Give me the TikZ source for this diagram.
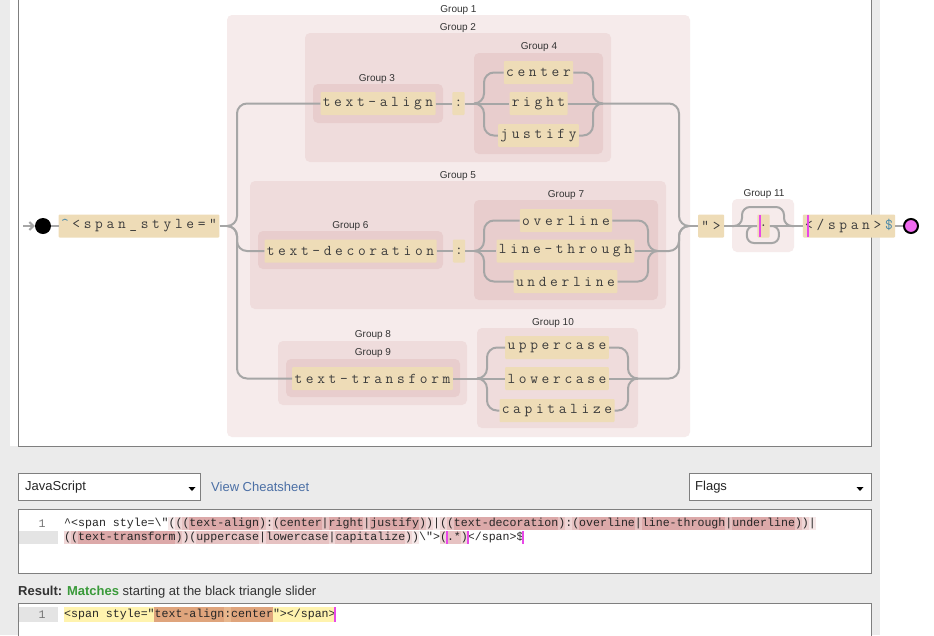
\documentclass[tikz,border=0pt]{standalone}
\usepackage{fontspec}
\setmainfont{Liberation Sans}
\newfontfamily\lmono{Liberation Mono}
\usetikzlibrary{calc,arrows.meta}
\definecolor{bggray}{HTML}{EBEBEB}
\definecolor{bord}{HTML}{7F7F7F}
\definecolor{lv1}{HTML}{F6EBEB}
\definecolor{lv2}{HTML}{EFDCDC}
\definecolor{lv3}{HTML}{E8CDCD}
\definecolor{tokfill}{HTML}{EEDCB7}
\definecolor{toktext}{HTML}{3C3C3C}
\definecolor{anch}{HTML}{4A88A8}
\definecolor{conncol}{HTML}{A6A6A6}
\definecolor{magbar}{HTML}{E848E8}
\definecolor{endfill}{HTML}{F06AF0}
\definecolor{hla}{HTML}{F6E8E8}
\definecolor{hlb}{HTML}{EFD6D6}
\definecolor{hlc}{HTML}{E6C2C2}
\definecolor{hld}{HTML}{DCA9A9}
\definecolor{yel}{HTML}{FFF3AE}
\definecolor{org}{HTML}{DFA47C}
\definecolor{orgl}{HTML}{E8B78E}
\definecolor{linkblue}{HTML}{4B6FA5}
\definecolor{green}{HTML}{3A9A3A}
\definecolor{guttergray}{HTML}{E4E4E4}
\makeatletter
\newcommand\spc[1]{\@tfor\sp@ch:=#1\do{\makebox[11.4pt]{\sp@ch}}}
\makeatother
\newcommand\hlx[4]{\fill[#4] ({64+(#2-1)*6.961},#1) rectangle ({64+(#3)*6.961},{#1+13});}
\begin{document}
\begin{tikzpicture}[x=1pt,y=-1pt,
  tok/.style={fill=tokfill, inner xsep=0.5pt, inner ysep=0pt, minimum height=23pt, text=toktext,
    font=\ttfamily\fontsize{15}{15}\selectfont, rounded corners=1pt},
  conn/.style={draw=conncol, line width=2pt},
  rc/.style={rounded corners=10pt},
  glabel/.style={font=\fontsize{10}{10}\selectfont, text=black!80, inner sep=0pt},
  uitext/.style={font=\fontsize{13}{13}\selectfont, inner sep=0pt, anchor=west},
  edtext/.style={font=\lmono\fontsize{11.6}{11.6}\selectfont, inner sep=0pt, anchor=west, text=black!85},
  bar/.style={draw=magbar, line width=2pt}]
\useasboundingbox (0,0) rectangle (934,635);
% page background
\fill[white] (0,0) rectangle (934,635);
\fill[bggray] (0,0) rectangle (880,635);
% diagram panel
\fill[white] (10,-2) rectangle (871,446);
\draw[bord] (18,-2) -- (18,446.5) -- (871.5,446.5) -- (871.5,-2);
% groups
\fill[lv1, rounded corners=5pt] (227,15) rectangle (690,437);
\fill[lv2, rounded corners=5pt] (305,33) rectangle (611,162);
\fill[lv3, rounded corners=5pt] (313,84) rectangle (443,123);
\fill[lv3, rounded corners=5pt] (474,53) rectangle (603,154);
\fill[lv2, rounded corners=5pt] (250,181) rectangle (666,309);
\fill[lv3, rounded corners=5pt] (258,231) rectangle (443,269);
\fill[lv3, rounded corners=5pt] (474,200) rectangle (658,300);
\fill[lv2, rounded corners=5pt] (278,341) rectangle (467,405);
\fill[lv3, rounded corners=5pt] (286,359) rectangle (460,397);
\fill[lv2, rounded corners=5pt] (477,328) rectangle (638,428);
\fill[lv1, rounded corners=5pt] (732,199) rectangle (794,252);
% group labels
\node[glabel] (lg1) at (458.5,10) {Group 1};
\node[glabel] (lg2) at (458,28) {Group 2};
\node[glabel] (lg3) at (377,79) {Group 3};
\node[glabel] (lg4) at (539,47) {Group 4};
\node[glabel] (lg5) at (458,176) {Group 5};
\node[glabel] (lg6) at (350.5,226) {Group 6};
\node[glabel] (lg7) at (566,195) {Group 7};
\node[glabel] (lg8) at (373,335) {Group 8};
\node[glabel] (lg9) at (373,353) {Group 9};
\node[glabel] (lg10) at (553,323) {Group 10};
\node[glabel] (lg11) at (764,194) {Group 11};
% tokens
\node[tok] (start) at (139,226) {\spc{{\color{anch}\textasciicircum}<span\_style="}};
\node[tok] (ta) at (378,103.5) {\spc{text-align}};
\node[tok] (c1) at (458.5,103.5) {\spc{:}};
\node[tok] (center) at (538.5,72.5) {\spc{center}};
\node[tok] (right) at (538.5,103.5) {\spc{right}};
\node[tok] (justify) at (538.5,135.5) {\spc{justify}};
\node[tok] (td) at (350.5,251) {\spc{text-decoration}};
\node[tok] (c2) at (459,251) {\spc{:}};
\node[tok] (overline) at (566,220.5) {\spc{overline}};
\node[tok] (lt) at (565.5,251) {\spc{line-through}};
\node[tok] (underline) at (565.5,281.5) {\spc{underline}};
\node[tok] (tt) at (372.5,378.5) {\spc{text-transform}};
\node[tok] (upper) at (557,347.5) {\spc{uppercase}};
\node[tok] (lower) at (557,378.5) {\spc{lowercase}};
\node[tok] (cap) at (557,410.5) {\spc{capitalize}};
\node[tok, minimum width=26pt] (qgt) at (711,226) {\spc{">}};
\node[tok] (dot) at (763.5,226) {\spc{.}};
\node[tok] (endspan) at (849,226) {\spc{</span>{\color{anch}\$}}};
% start / end circles
\node[circle, fill=black, minimum size=16pt, inner sep=0pt] (sc) at (43,226) {};
\node[circle, fill=endfill, draw=black, line width=2pt, minimum size=14pt, inner sep=0pt] (ec) at (911,226) {};
\coordinate (arr0) at (23,226);
% coordinates of group entries
\coordinate (g1in) at (227,226); \coordinate (g1out) at (689,226);
\coordinate (g4in) at (474,103.5); \coordinate (g4out) at (603,103.5);
\coordinate (g7in) at (474,251); \coordinate (g7out) at (658,251);
\coordinate (g10in) at (477,378.5); \coordinate (g10out) at (638,378.5);
\coordinate (g11in) at (732,226); \coordinate (g11out) at (794,226);
% connectors
\draw[conn, -{Straight Barb[length=4pt,width=8pt]}] (arr0) -- (sc.west);
\draw[conn] (sc.east) -- (start.west);
\draw[conn] (start.east) -- (g1in);
\draw[conn, rc] (g1in) -- ++(10,0) |- (ta.west);
\draw[conn, rc] (g1in) -- ++(10,0) |- (td.west);
\draw[conn, rc] (g1in) -- ++(10,0) |- (tt.west);
% group 2
\draw[conn] (ta.east) -- (c1.west);
\draw[conn] (c1.east) -- (g4in);
\draw[conn, rc] (g4in) -- ++(10,0) |- (center.west);
\draw[conn] (g4in) -- (right.west);
\draw[conn, rc] (g4in) -- ++(10,0) |- (justify.west);
\draw[conn, rc] (center.east) -| ($(g4out)+(-10,0)$) -- (g4out);
\draw[conn] (right.east) -- (g4out);
\draw[conn, rc] (justify.east) -| ($(g4out)+(-10,0)$) -- (g4out);
\draw[conn, rc] (g4out) -| ($(g1out)+(-10,0)$) -- (g1out);
% group 5
\draw[conn] (td.east) -- (c2.west);
\draw[conn] (c2.east) -- (g7in);
\draw[conn, rc] (g7in) -- ++(10,0) |- (overline.west);
\draw[conn] (g7in) -- (lt.west);
\draw[conn, rc] (g7in) -- ++(10,0) |- (underline.west);
\draw[conn, rc] (overline.east) -| ($(g7out)+(-10,0)$) -- (g7out);
\draw[conn] (lt.east) -- (g7out);
\draw[conn, rc] (underline.east) -| ($(g7out)+(-10,0)$) -- (g7out);
\draw[conn, rc] (g7out) -| ($(g1out)+(-10,0)$) -- (g1out);
% group 8 / 10
\draw[conn] (tt.east) -- (g10in);
\draw[conn, rc] (g10in) -- ++(10,0) |- (upper.west);
\draw[conn] (g10in) -- (lower.west);
\draw[conn, rc] (g10in) -- ++(10,0) |- (cap.west);
\draw[conn, rc] (upper.east) -| ($(g10out)+(-10,0)$) -- (g10out);
\draw[conn] (lower.east) -- (g10out);
\draw[conn, rc] (cap.east) -| ($(g10out)+(-10,0)$) -- (g10out);
\draw[conn, rc] (g10out) -| ($(g1out)+(-10,0)$) -- (g1out);
% tail
\draw[conn] (g1out) -- (qgt.west);
\draw[conn] (qgt.east) -- (g11in);
\draw[conn] (g11in) -- (dot.west);
\draw[conn] (dot.east) -- (g11out);
\draw[conn, rounded corners=8pt] (g11in) -- ++(10,0) -- ++(0,-19) -| ($(g11out)+(-10,0)$) -- (g11out);
\draw[conn, rounded corners=7pt] (dot.east) -- ++(9,0) -- ++(0,17) -- ++(-32,0) -- ++(0,-17) -- (dot.west);
\draw[conn] (g11out) -- (endspan.west);
\draw[conn] (endspan.east) -- (ec.west);
% selection bars
\draw[bar] (760,215) -- (760,237);
\draw[bar] (808,215) -- (808,237);
% ---- lower UI ----
\draw[bord, fill=white] (18.5,473.5) rectangle (200.5,500.5);
\node[uitext, text=black!85] (js) at (25,487) {JavaScript};
\fill[black] (188.5,487) -- (195.5,487) -- (192,491) -- cycle;
\node[uitext, text=linkblue] (cheat) at (211,487) {View Cheatsheet};
\draw[bord, fill=white] (689.5,473.5) rectangle (871.5,500.5);
\node[uitext, text=black!85] (flags) at (695,487) {Flags};
\fill[black] (856.5,487) -- (863.5,487) -- (860,491) -- cycle;
% regex editor
\draw[bord, fill=white] (18.5,509.5) rectangle (871.5,573.5);
\fill[guttergray] (19,531) rectangle (58,544);
\node[edtext, anchor=center, text=black!55] (ln1) at (42,523.5) {1};
\foreach \a/\b/\c in {16/16/hla,17/17/hlb,18/18/hlc,19/28/hld,29/29/hlc,30/30/hlb,31/31/hlc,32/37/hld,38/38/hlc,39/43/hld,44/44/hlc,45/51/hld,52/52/hlc,53/53/hlb,54/54/hla,55/55/hlb,56/56/hlc,57/71/hld,72/72/hlc,73/73/hlb,74/74/hlc,75/82/hld,83/83/hlc,84/95/hld,96/96/hlc,97/105/hld,106/106/hlc,107/107/hlb,108/108/hla}
  {\hlx{517}{\a}{\b}{\c}}
\foreach \a/\b/\c in {1/1/hlb,2/2/hlc,3/16/hld,17/17/hlc,18/18/hlb,19/19/hlb,20/28/hlc,29/29/hlb,30/38/hlc,39/39/hlb,40/49/hlc,50/50/hlb,51/51/hla,55/55/hlb,56/57/hlc,58/58/hlb}
  {\hlx{531}{\a}{\b}{\c}}
\node[edtext] (re1) at (64,523.5) {\textasciicircum<span style=\textbackslash"(((text-align):(center|right|justify))|((text-decoration):(overline|line-through|underline))|};
\node[edtext] (re2) at (64,537.5) {((text-transform))(uppercase|lowercase|capitalize))\textbackslash">(.*)</span>\$};
\draw[bar] ({64+55*6.961},531) -- ({64+55*6.961},544);
\draw[bar] ({64+58*6.961},531) -- ({64+58*6.961},544);
\draw[bar] ({64+66*6.961},531) -- ({64+66*6.961},544);
% result
\node[uitext, text=black!80] (res) at (18,592) {\textbf{Result:} \textbf{\color{green}Matches} starting at the black triangle slider};
\draw[bord, fill=white] (18.5,603.5) rectangle (871.5,640);
\fill[guttergray] (19,607) rectangle (58,622);
\node[edtext, anchor=center, text=black!55] (ln2) at (42,614.5) {1};
\fill[yel] (64,607) rectangle ({64+13*6.961},622);
\fill[org] ({64+13*6.961},607) rectangle ({64+23*6.961},622);
\fill[orgl] ({64+23*6.961},607) rectangle ({64+24*6.961},622);
\fill[org] ({64+24*6.961},607) rectangle ({64+30*6.961},622);
\fill[yel] ({64+30*6.961},607) rectangle ({64+39*6.961},622);
\node[edtext] (rl) at (64,614.5) {<span style="text-align:center"></span>};
\draw[bar] ({64+39*6.961},607) -- ({64+39*6.961},622);
\end{tikzpicture}
\end{document}
